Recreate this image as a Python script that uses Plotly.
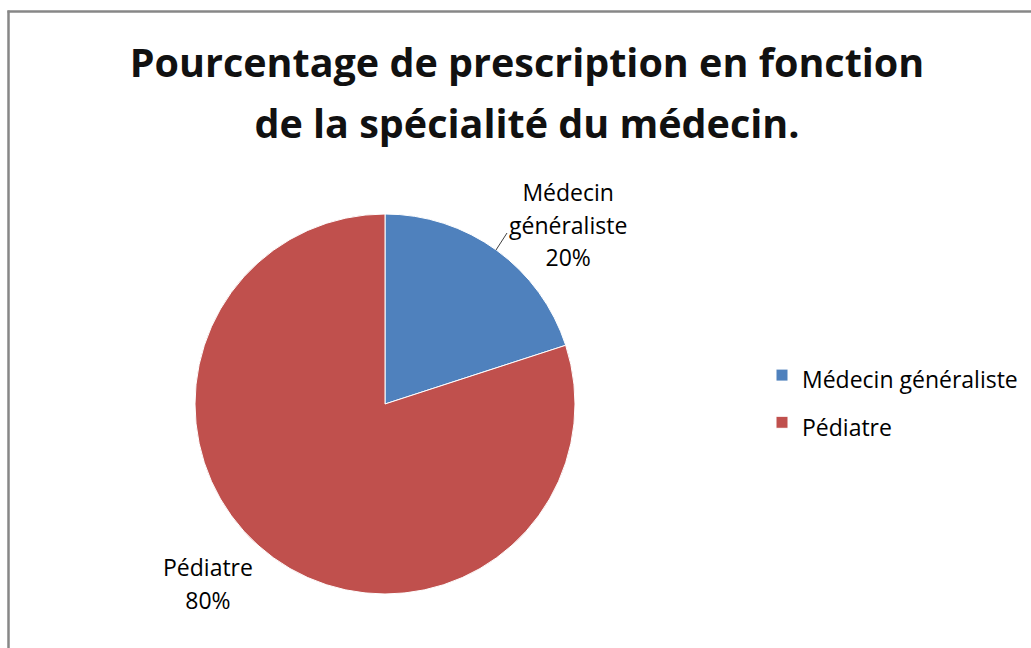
import plotly.graph_objects as go

categories = ["Médecin généraliste", "Pédiatre"]
values = [20, 80]
colors = ["#4F81BD", "#C0504D"]
title_lines = ["Pourcentage de prescription en fonction", "de la spécialité du médecin."]

W, H = 1031, 648
total = sum(values)
pcts = [round(100 * v / total) for v in values]

def px(x):
    return x / W

def py(y):
    return 1 - y / H

TXT = 'font-size:23px'
legend_labels = [f'<span style="{TXT}">{c}</span>' for c in categories]

fig = go.Figure(go.Pie(
    labels=legend_labels,
    values=values,
    sort=False,
    direction="clockwise",
    rotation=0,
    marker=dict(colors=colors, line=dict(color="white", width=1)),
    textinfo="none",
    hoverinfo="label+percent",
    domain=dict(x=[px(195), px(575)], y=[py(594), py(214)]),
))

# slice labels built from data
label_texts = [
    f'<span style="{TXT}">{categories[0].replace(" ", "<br>")}<br>{pcts[0]}%</span>',
    f'<span style="{TXT}">{categories[1]}<br>{pcts[1]}%</span>',
]
label_pos = [(568, 224), (208, 583)]
annotations = []
for t, (x, y) in zip(label_texts, label_pos):
    annotations.append(dict(
        text=t, x=px(x), y=py(y), xref="paper", yref="paper",
        xanchor="center", yanchor="middle", showarrow=False,
        font=dict(family="Open Sans", size=25, color="#000000"),
    ))

shapes = [
    # leader line
    dict(type="line", xref="paper", yref="paper",
         x0=px(496), y0=py(250), x1=px(507), y1=py(233),
         line=dict(color="#404040", width=1)),
    # chart frame
    dict(type="line", xref="paper", yref="paper",
         x0=px(7.5), y0=py(11.5), x1=1.0, y1=py(11.5),
         line=dict(color="#878787", width=2.5)),
    dict(type="line", xref="paper", yref="paper",
         x0=px(8.5), y0=py(10.5), x1=px(8.5), y1=0,
         line=dict(color="#878787", width=2.5)),
]

title_html = "<br>".join(f'<span style="font-size:39.5px">{t}</span>' for t in title_lines)

fig.update_layout(
    width=W, height=H,
    margin=dict(l=0, r=0, t=0, b=0),
    paper_bgcolor="white",
    plot_bgcolor="white",
    title=dict(
        text=title_html,
        x=px(527), xanchor="center", xref="paper",
        y=py(77), yanchor="top", yref="container",
        font=dict(family="Open Sans", size=47, color="#111111", weight="bold"),
    ),
    legend=dict(
        x=px(762), y=py(399), xanchor="left", yanchor="middle",
        font=dict(family="Open Sans", size=34, color="#000000"),
        bgcolor="rgba(0,0,0,0)",
        itemwidth=30,
    ),
    showlegend=True,
    annotations=annotations,
    shapes=shapes,
)

fig.write_html("out.html", config={"displayModeBar": False},
               post_script="document.body.style.margin='0px';")
